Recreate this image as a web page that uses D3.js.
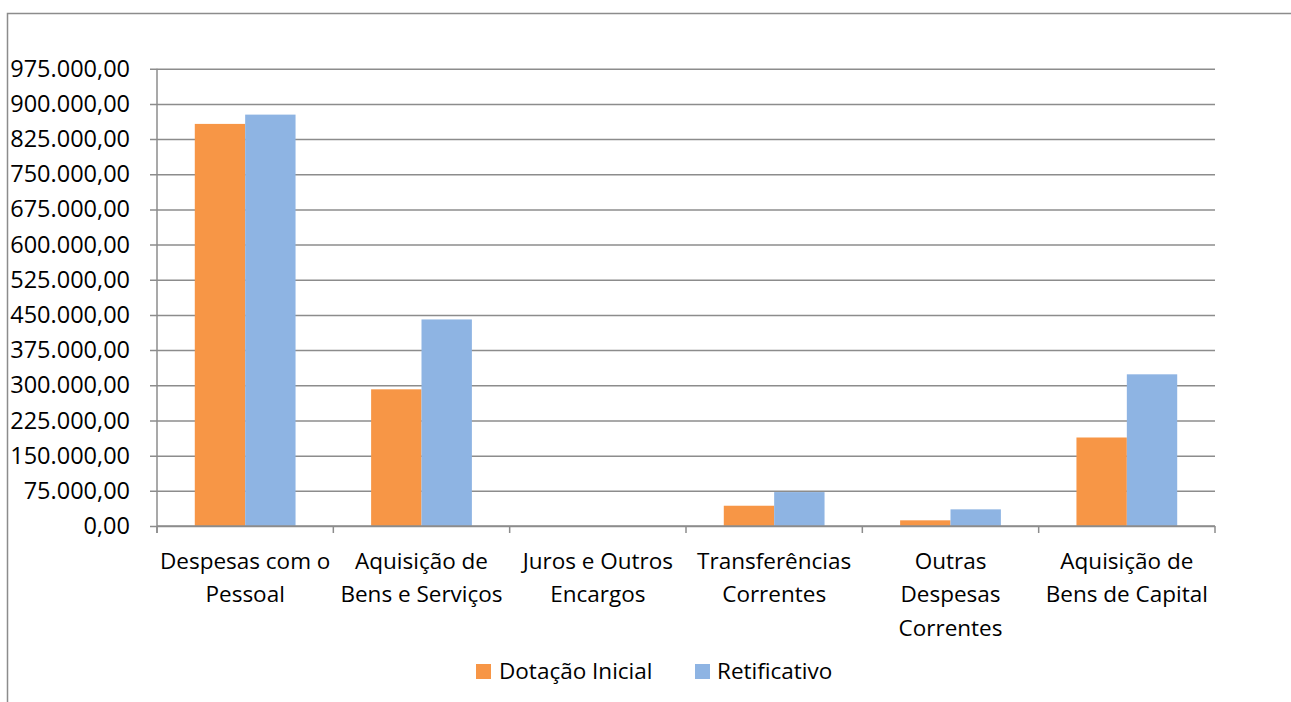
<!DOCTYPE html>
<html><head><meta charset="utf-8">
<script src="https://cdn.jsdelivr.net/npm/d3@7"></script>
<style>body{margin:0;background:#fff;} text{font-family:"Open Sans",sans-serif;fill:#000;}</style>
</head><body>
<svg id="c" width="1291" height="702"></svg>
<script>
const categories = [
  ["Despesas com o","Pessoal"],
  ["Aquisição de","Bens e Serviços"],
  ["Juros e Outros","Encargos"],
  ["Transferências","Correntes"],
  ["Outras","Despesas","Correntes"],
  ["Aquisição de","Bens de Capital"]
];
const seriesNames = ["Dotação Inicial","Retificativo"];
const dotacaoInicial = [857300, 291400, 0, 43200, 12100, 188700];
const retificativo   = [877100, 440400, 0, 72300, 35500, 323400];
const yTicks = [0,75000,150000,225000,300000,375000,450000,525000,600000,675000,750000,825000,900000,975000];
const colors = ["#F79646","#8EB4E3"];

const svg = d3.select("#c");
const fmt = v => {
  const s = Math.round(v).toString().replace(/\B(?=(\d{3})+(?!\d))/g, ".");
  return s + ",00";
};
const L = 157, R = 1215, T = 68.7, B = 526;
const x = d3.scaleBand().domain(d3.range(categories.length)).range([L, R]).paddingInner(0).paddingOuter(0);
const y = d3.scaleLinear().domain([0, 975000]).range([B, T]);
const inner = d3.scaleBand().domain([0,1]).range([0, x.bandwidth()]).paddingOuter(0.75).paddingInner(0);

// outer frame
svg.append("rect").attr("x",7.5).attr("y",13.5).attr("width",1400).attr("height",800)
  .attr("fill","none").attr("stroke","#8c8c8c").attr("stroke-width",1.5);

// gridlines + y axis
const yAxis = d3.axisLeft(y).tickValues(yTicks).tickSize(-(R-L)).tickFormat(fmt).tickPadding(27);
const gy = svg.append("g").attr("transform",`translate(${L},0)`).call(yAxis);
gy.select(".domain").remove();
gy.selectAll(".tick line").attr("stroke","#8c8c8c").attr("stroke-width",1.5).attr("x1",-7);
gy.selectAll(".tick text").attr("font-size","23.5px").attr("font-family","Open Sans").attr("fill","#000");

// bars
const data = categories.map((c,i)=>[dotacaoInicial[i], retificativo[i]]);
const groups = svg.append("g").selectAll("g").data(data).join("g")
  .attr("transform",(d,i)=>`translate(${x(i)},0)`);
groups.selectAll("rect").data(d=>d).join("rect")
  .attr("x",(d,j)=>inner(j)).attr("width",inner.bandwidth())
  .attr("y",d=>y(d)).attr("height",d=>B-y(d))
  .attr("fill",(d,j)=>colors[j]);

// x axis
const xAxis = d3.axisBottom(x).tickSize(7).tickFormat("");
const gx = svg.append("g").attr("transform",`translate(0,${B})`).call(xAxis);
gx.select(".domain").remove();
gx.selectAll(".tick").remove();
gx.append("line").attr("x1",L).attr("x2",R).attr("stroke","#8c8c8c").attr("stroke-width",1.5);
d3.range(categories.length+1).forEach(i=>{
  const xx = i<categories.length ? x(i) : R;
  gx.append("line").attr("x1",xx).attr("x2",xx).attr("y1",0).attr("y2",7).attr("stroke","#8c8c8c").attr("stroke-width",1.5);
});
// y axis line
svg.append("line").attr("x1",L).attr("x2",L).attr("y1",T).attr("y2",B+7).attr("stroke","#8c8c8c").attr("stroke-width",1.5);

// category labels
categories.forEach((lines,i)=>{
  const t = svg.append("text").attr("text-anchor","middle").attr("font-size","22.5px");
  lines.forEach((ln,k)=>{
    t.append("tspan").attr("x", x(i)+x.bandwidth()/2).attr("y", 561 + k*33.5).attr("dy","0.35em").text(ln);
  });
});

// legend
const legend = [{name:seriesNames[0], c:colors[0], sx:476, tx:499},{name:seriesNames[1], c:colors[1], sx:695, tx:717}];
legend.forEach(l=>{
  svg.append("rect").attr("x",l.sx).attr("y",664).attr("width",15).attr("height",15).attr("fill",l.c);
  svg.append("text").attr("x",l.tx).attr("y",671.5).attr("dy","0.35em").attr("font-size","22.5px").text(l.name);
});
</script>
</body></html>
